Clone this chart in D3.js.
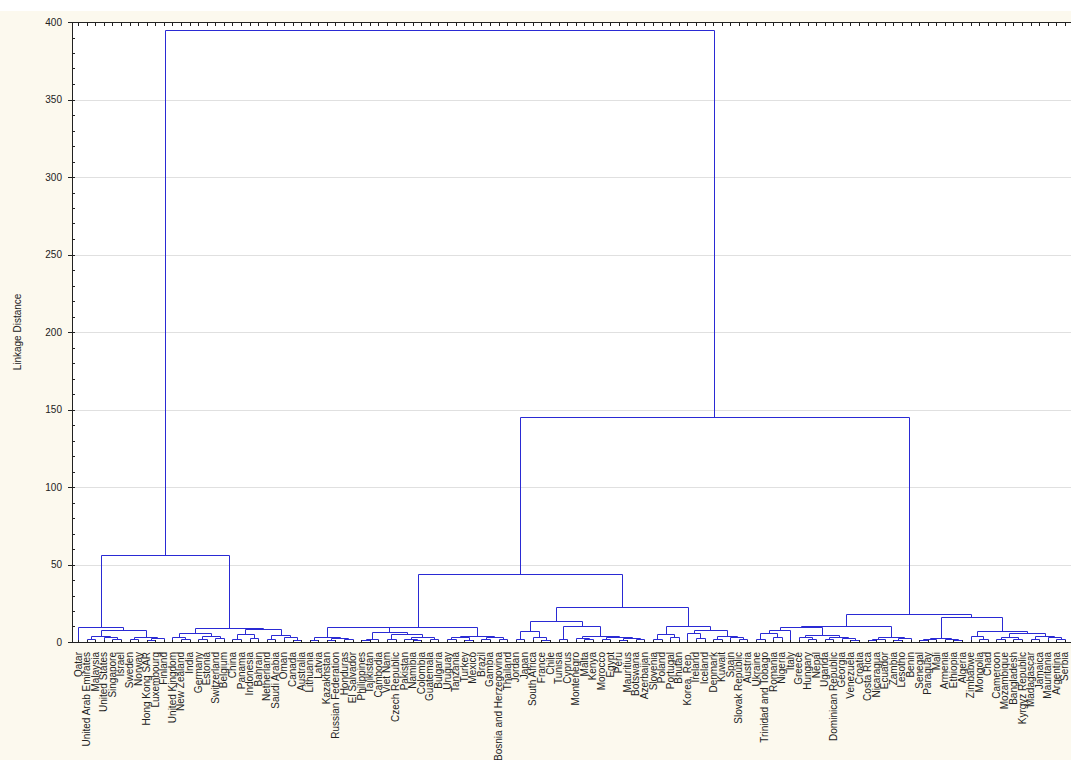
<!DOCTYPE html>
<html><head><meta charset="utf-8">
<script src="https://cdn.jsdelivr.net/npm/d3@7"></script>
<style>
html,body{margin:0;padding:0;background:#fff;}
svg{display:block;}
</style></head>
<body>
<script>
// ---------- DATA ----------
const countries = ["Qatar","United Arab Emirates","Malaysia","United States","Singapore","Israel","Sweden","Norway","Hong Kong SAR","Luxembourg","Finland","United Kingdom","New Zealand","India","Germany","Estonia","Switzerland","Belgium","China","Panama","Indonesia","Bahrain","Netherland","Saudi Arabia","Oman","Canada","Australia","Lithuania","Latvia","Kazakhstan","Russian Federation","Honduras","El Salvador","Philippines","Tajikistan","Cambodia","Viet Nam","Czech Republic","Pakistan","Namibia","Colombia","Guatemala","Bulgaria","Uruguay","Tanzania","Turkey","Mexico","Brazil","Gambia","Bosnia and Herzegovina","Thailand","Jordan","Japan","South Africa","France","Chile","Tunisia","Cyprus","Montenegro","Malta","Kenya","Morocco","Egypt","Peru","Mauritius","Botswana","Azerbaijan","Slovenia","Poland","Portugal","Bhutan","Korea, Rep.","Ireland","Iceland","Denmark","Kuwait","Spain","Slovak Republic","Austria","Ukraine","Trinidad and Tobago","Romania","Nigeria","Italy","Greece","Hungary","Nepal","Uganda","Dominican Republic","Georgia","Venezuela","Croatia","Costa Rica","Nicaragua","Ecuador","Zambia","Lesotho","Benin","Senegal","Paraguay","Mali","Armenia","Ethiopia","Algeria","Zimbabwe","Mongolia","Chad","Cameroon","Mozambique","Bangladesh","Kyrgyz Republic","Madagascar","Jamaica","Mauritania","Argentina","Serbia"];

// clusters: [linkage distance, left, right]
const clusterHigh = [9.7, "Qatar",
  [7.7,
    [4, [2,"United Arab Emirates","Malaysia"], [3,"United States",[2,"Singapore","Israel"]]],
    [3.5, [2,"Sweden","Norway"], [2.5,[1.5,"Hong Kong SAR","Luxembourg"],"Finland"]]]];
const clusterEurope = [9,
  [5.7, [3,"United Kingdom",[2,"New Zealand","India"]], [4,[2,"Germany","Estonia"],[2.5,"Switzerland","Belgium"]]],
  [8.4, [5,[2,"China","Panama"],[2.5,"Indonesia","Bahrain"]], [4.5,[2,"Netherland","Saudi Arabia"],[3,"Oman",[1.5,"Canada","Australia"]]]]];
const clusterMidA = [9.7,
  [9.5,
    [3.2,[1.5,"Lithuania","Latvia"],[2.5,[1.5,"Kazakhstan","Russian Federation"],[2,"Honduras","El Salvador"]]],
    [6.5,[2,[1.5,"Philippines","Tajikistan"],"Cambodia"],[5,[2,"Viet Nam","Czech Republic"],[3,[2,"Pakistan",[1,"Namibia","Colombia"]],[2,"Guatemala","Bulgaria"]]]]],
  [4,[3,[2,"Uruguay","Tanzania"],[1.5,"Turkey","Mexico"]],[3,[2,"Brazil","Gambia"],[2,"Bosnia and Herzegovina","Thailand"]]]];
const clusterMidB = [22.6,
  [13.5,
    [7,[2,"Jordan","Japan"],[3,"South Africa",[1.5,"France","Chile"]]],
    [10,[2,"Tunisia","Cyprus"],[4,[2.5,"Montenegro",[2,"Malta","Kenya"]],[3,[2,"Morocco","Egypt"],[2.5,[1.5,"Peru","Mauritius"],[2,"Botswana","Azerbaijan"]]]]]],
  [10,
    [5,[2,"Slovenia","Poland"],[3,"Portugal","Bhutan"]],
    [7.7,[5.8,"Korea, Rep.",[2.5,"Ireland","Iceland"]],[4,[2,"Denmark","Kuwait"],[3,"Spain",[2,"Slovak Republic","Austria"]]]]]];
const clusterLow = [18,
  [10,
    [9.5,
      [8,[5.8,[2,"Ukraine","Trinidad and Tobago"],[3,"Romania","Nigeria"]],"Italy"],
      [4.5,[3,"Greece",[2,"Hungary","Nepal"]],[3,[2,"Uganda","Dominican Republic"],[2.5,"Georgia",[1.5,"Venezuela","Croatia"]]]]],
    [3,[2,[1.5,"Costa Rica","Nicaragua"],"Ecuador"],[2.5,[1.5,"Zambia","Lesotho"],"Benin"]]],
  [16,
    [2.6,[2,[1.5,"Senegal","Paraguay"],"Mali"],[2,"Armenia",[1.5,"Ethiopia","Algeria"]]],
    [7,[4,"Zimbabwe",[2,"Mongolia","Chad"]],
       [6,[3,[2,"Cameroon","Mozambique"],[2,"Bangladesh","Kyrgyz Republic"]],[4,[2,"Madagascar","Jamaica"],[3,"Mauritania",[2,"Argentina","Serbia"]]]]]]];
const topLinks = [395, [56, clusterHigh, clusterEurope], [145, [44, clusterMidA, clusterMidB], clusterLow]];

const yTicks = [0,50,100,150,200,250,300,350,400];
const yTitle = "Linkage Distance";

// ---------- CHART ----------
(function(){
const W = 1071, H = 760;
const pL = 72, pR = 1071, pT = 22, pB = 642;
const font = "Liberation Sans, Arial, sans-serif";
const svg = d3.select("body").append("svg").attr("width", W).attr("height", H);
svg.append("rect").attr("x",0).attr("y",11).attr("width",W).attr("height",H-11).attr("fill","#fcf9ee");
svg.append("rect").attr("x",pL).attr("y",pT).attr("width",pR-pL).attr("height",pB-pT).attr("fill","#ffffff");

const x = d3.scalePoint().domain(countries).range([pL, pR]).padding(0.7);
const y = d3.scaleLinear().domain([0,400]).range([pB, pT]);

// gridlines
svg.append("g").selectAll("line").data(yTicks.filter(v=>v>0&&v<400)).join("line")
  .attr("x1",pL).attr("x2",pR).attr("y1",d=>Math.round(y(d))+0.5).attr("y2",d=>Math.round(y(d))+0.5)
  .attr("stroke","#e0e0e0").attr("stroke-width",1);

// hierarchy
const root = d3.hierarchy(topLinks, d => Array.isArray(d) ? d.slice(1) : null);
root.eachAfter(n => {
  if (!n.children) { n.px = x(n.data); n.h = 0; }
  else { n.px = (n.children[0].px + n.children[1].px)/2; n.h = n.data[0]; }
});
const gLinks = svg.append("g").attr("fill","none").attr("stroke","#2a2ad4").attr("stroke-width",1);
root.each(n => {
  if (!n.children) return;
  const [a,b] = n.children;
  const py = Math.round(y(n.h))+0.5;
  gLinks.append("path").attr("d",
    `M${Math.round(a.px)+0.5},${Math.round(y(a.h))+0.5}V${py}H${Math.round(b.px)+0.5}V${Math.round(y(b.h))+0.5}`);
});

// axes frame
const axisColor = "#222";
svg.append("line").attr("x1",pL+0.5).attr("x2",pL+0.5).attr("y1",pT).attr("y2",pB+1).attr("stroke",axisColor);
svg.append("line").attr("x1",pL).attr("x2",pR).attr("y1",pT+0.5).attr("y2",pT+0.5).attr("stroke",axisColor);
svg.append("line").attr("x1",pL).attr("x2",pR).attr("y1",pB+0.5).attr("y2",pB+0.5).attr("stroke",axisColor);

// top & bottom ticks at each leaf
svg.append("g").selectAll("line").data(countries).join("line")
  .attr("x1",d=>Math.round(x(d))+0.5).attr("x2",d=>Math.round(x(d))+0.5)
  .attr("y1",pT).attr("y2",pT+4).attr("stroke",axisColor);
svg.append("g").selectAll("line").data(countries).join("line")
  .attr("x1",d=>Math.round(x(d))+0.5).attr("x2",d=>Math.round(x(d))+0.5)
  .attr("y1",pB-2).attr("y2",pB+1).attr("stroke",axisColor);

// y axis ticks
const minor = d3.range(0,401,10);
svg.append("g").selectAll("line").data(minor).join("line")
  .attr("x1",pL).attr("x2",pL+3).attr("y1",d=>Math.round(y(d))+0.5).attr("y2",d=>Math.round(y(d))+0.5)
  .attr("stroke",axisColor);
svg.append("g").selectAll("line").data(yTicks).join("line")
  .attr("x1",pL-4).attr("x2",pL).attr("y1",d=>Math.round(y(d))+0.5).attr("y2",d=>Math.round(y(d))+0.5)
  .attr("stroke",axisColor);
svg.append("g").selectAll("text").data(yTicks).join("text")
  .attr("x",pL-10).attr("y",d=>y(d)).attr("dy","0.35em").attr("text-anchor","end")
  .attr("font-family",font).attr("font-size",10).attr("fill","#222")
  .text(d=>d);

svg.append("text").attr("transform",`translate(21,${(pT+pB)/2}) rotate(-90)`)
  .attr("text-anchor","middle").attr("font-family",font)
  .attr("font-size",10).attr("fill","#222").text(yTitle);

// leaf labels
svg.append("g").selectAll("text").data(countries).join("text")
  .attr("transform",d=>`translate(${x(d)},${pB+10}) rotate(-90)`)
  .attr("dy","0.35em").attr("text-anchor","end")
  .attr("font-family",font).attr("font-size",10).attr("fill","#222")
  .text(d=>d);
})();
</script>
</body></html>
